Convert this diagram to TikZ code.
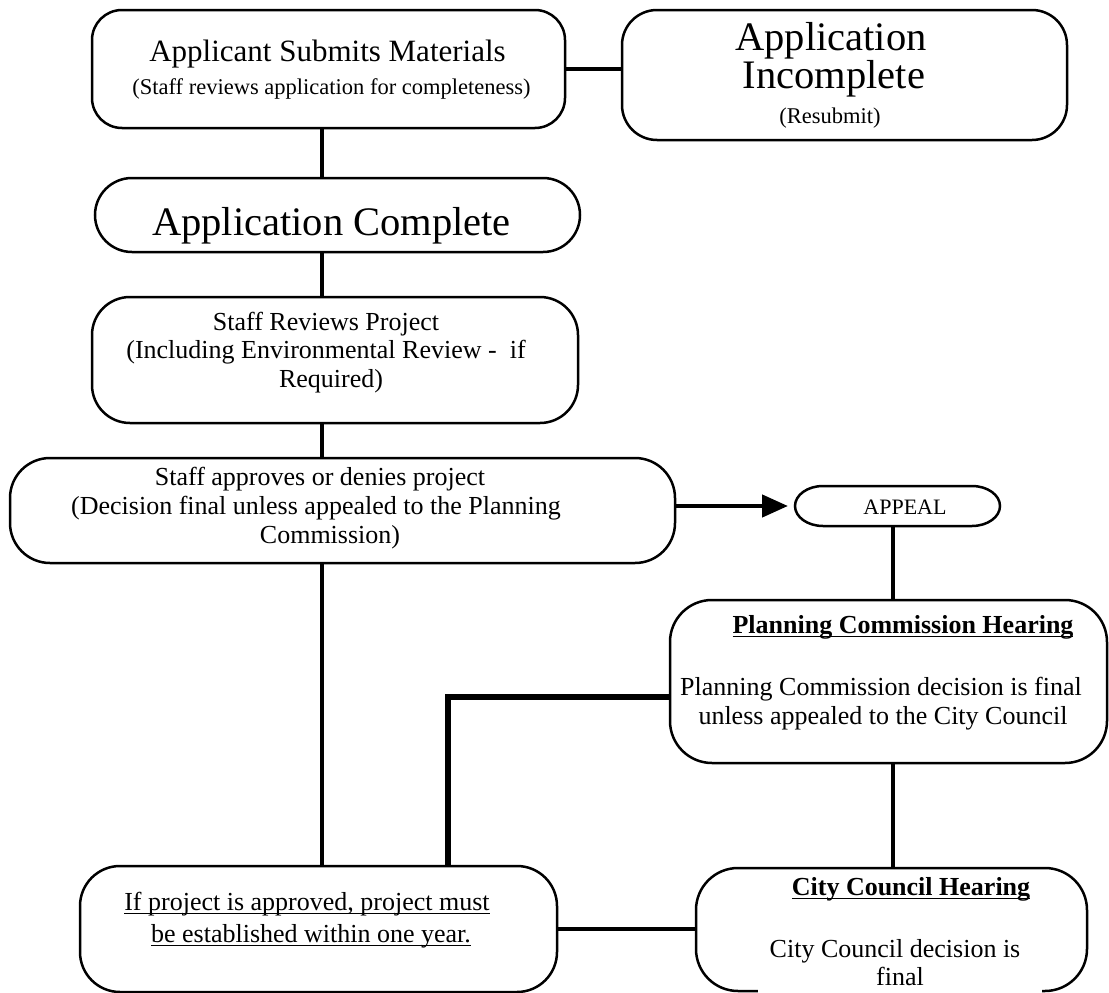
\documentclass[tikz,border=0pt]{standalone}
\usepackage{fontspec}
\setmainfont{Liberation Serif}
\usetikzlibrary{arrows.meta}
\newcommand\szbody{\fontsize{26}{29}\selectfont}
\newcommand\szsub{\fontsize{22.5}{25}\selectfont}
\newcommand\sztitle{\fontsize{31}{34}\selectfont}
\newcommand\szbig{\fontsize{40.5}{44}\selectfont}
\newcommand\szappeal{\fontsize{22}{25}\selectfont}
\tikzset{
  box/.style={draw, line width=2.5pt, rounded corners=#1, inner sep=0pt, outer sep=0pt, fill=white},
  box/.default=38pt,
  oval/.style={inner sep=0pt, outer sep=0pt},
  ovalline/.style={line width=2.5pt},
  conn/.style={line width=4.5pt},
  thickconn/.style={line width=6.5pt},
  txt/.style={anchor=base, inner sep=0pt, outer sep=0pt},
  uline/.style={line width=1.8pt}
}
\begin{document}
\begin{tikzpicture}[x=1pt,y=-1pt]
\useasboundingbox (0,0) rectangle (1109,993);

% spine coordinates
\coordinate (spL) at (322,0);
\coordinate (spR) at (893,0);
\coordinate (bend) at (448,697);

% boxes
\node[box=30pt, minimum width=473pt, minimum height=118pt] (A) at (328.5,69) {};
\node[box=35pt, minimum width=445pt, minimum height=130pt] (B) at (844.5,75) {};
\node[box=37pt, minimum width=485pt, minimum height=74pt] (C) at (337.5,215) {};
\node[box=38pt, minimum width=486pt, minimum height=126pt] (D) at (335,360) {};
\node[box=40pt, minimum width=665pt, minimum height=105pt] (E) at (342.5,510.5) {};
\node[oval, minimum width=205pt, minimum height=40pt] (F) at (897.5,506) {};
\draw[ovalline] ([xshift=28pt]F.north west) -- ([xshift=-28pt]F.north east)
  arc[start angle=90, end angle=-90, x radius=28pt, y radius=20pt]
  -- ([xshift=28pt]F.south west)
  arc[start angle=270, end angle=90, x radius=28pt, y radius=20pt] -- cycle;
\node[box=42pt, minimum width=437pt, minimum height=163pt] (PC) at (888.5,681.5) {};
\node[box=42pt, minimum width=391pt, minimum height=123pt] (CC) at (891.5,929.5) {};
\node[box=40pt, minimum width=477pt, minimum height=126pt] (G) at (318.5,929) {};

% connectors
\draw[conn] (A.east) -- (A.east -| B.west);
\draw[conn] (spL |- A.south) -- (spL |- C.north);
\draw[conn] (spL |- C.south) -- (spL |- D.north);
\draw[conn] (spL |- D.south) -- (spL |- E.north);
\draw[conn] (spL |- E.south) -- (spL |- G.north);
\draw[conn, -{Triangle[length=26pt,width=22pt]}, shorten >=7pt] (E.east |- F.west) -- (F.west);
\draw[conn] (spR |- F.south) -- (spR |- PC.north);
\draw[conn] (spR |- PC.south) -- (spR |- CC.north);
\draw[thickconn] (bend -| PC.west) -- (bend) -- (bend |- G.north);
\draw[conn] (G.east) -- (G.east -| CC.west);

% texts
\node[txt, font=\sztitle] (a1) at (327.5,61) {Applicant Submits Materials};
\node[txt, font=\szsub] (a2) at (331.5,94) {(Staff reviews application for completeness)};

\node[txt, font=\szbig] (b1) at (831,50) {Application};
\node[txt, font=\szbig] (b2) at (834,88) {Incomplete};
\node[txt, font=\szsub] (b3) at (830,123) {(Resubmit)};

\node[txt, font=\szbig] (c1) at (331.5,235) {Application Complete};

\node[txt, font=\szbody] (d1) at (326,330) {Staff Reviews Project};
\node[txt, font=\szbody] (d2) at (326,358.5) {(Including Environmental Review - \ if};
\node[txt, font=\szbody] (d3) at (331,387) {Required)};

\node[txt, font=\szbody] (e1) at (320,485) {Staff approves or denies project};
\node[txt, font=\szbody] (e2) at (316,514) {(Decision final unless appealed to the Planning};
\node[txt, font=\szbody] (e3) at (330,543) {Commission)};

\node[txt, font=\szappeal] (f1) at (905,514) {APPEAL};

\node[txt, font=\szbody\bfseries] (p1) at (903,633) {Planning Commission Hearing};
\draw[uline] ([yshift=-3.5pt]p1.base west) -- ([yshift=-3.5pt]p1.base east);
\node[txt, font=\szbody] (p2) at (881,695) {Planning Commission decision is final};
\node[txt, font=\szbody] (p3) at (883,724) {unless appealed to the City Council};

\node[txt, font=\szbody\bfseries] (k1) at (911,895) {City Council Hearing};
\draw[uline] ([yshift=-3.5pt]k1.base west) -- ([yshift=-3.5pt]k1.base east);
\node[txt, font=\szbody] (k2) at (895,957) {City Council decision is};
\node[txt, font=\szbody, fill=white, minimum width=284pt, text depth=9pt] (k3) at (900,985) {final};

\node[txt, font=\szbody] (g1) at (307,910) {If project is approved, project must\ };
\draw[uline] ([yshift=-3.5pt]g1.base west) -- ([yshift=-3.5pt]g1.base east);
\node[txt, font=\szbody] (g2) at (311,942) {be established within one year.};
\draw[uline] ([yshift=-3.5pt]g2.base west) -- ([yshift=-3.5pt]g2.base east);
\end{tikzpicture}
\end{document}
